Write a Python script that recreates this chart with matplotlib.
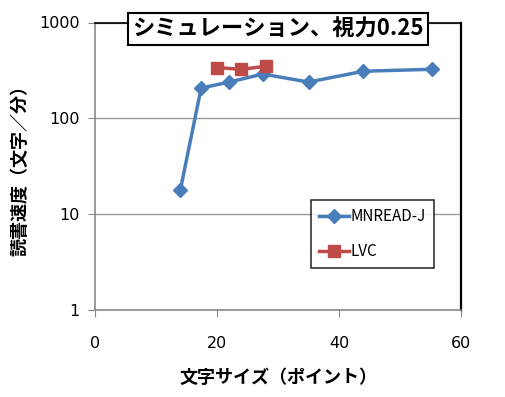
import numpy as np
import matplotlib
matplotlib.use("Agg")
import matplotlib.pyplot as plt

plt.rcParams['font.family'] = ['Noto Sans CJK JP', 'DejaVu Sans']

# data
mn_size = [14, 17.4, 22, 27.5, 35, 44, 55.2]
mn_speed = [18, 207, 239, 290, 239, 310, 325]
lvc_size = [20, 24, 28]
lvc_speed = [339, 324, 350]

xticks = [0, 20, 40, 60]
yticks = [1, 10, 100, 1000]

blue = "#4a7ebb"
red = "#be4b48"

fig = plt.figure(figsize=(5.06, 3.97), dpi=100)
ax = fig.add_axes([95 / 506, 1 - 310 / 397, 366 / 506, 287.5 / 397])

ax.plot(mn_size, mn_speed, color=blue, lw=2.5, marker="D", ms=7, label="MNREAD-J", zorder=3)
ax.plot(lvc_size, lvc_speed, color=red, lw=2.5, marker="s", ms=8, label="LVC", zorder=4)

ax.set_yscale("log")
ax.set_xlim(0, 60)
ax.set_ylim(1, 1000)
ax.set_xticks(xticks)
ax.set_xticklabels([str(t) for t in xticks], family="DejaVu Sans")
ax.set_yticks(yticks)
ax.set_yticklabels([str(t) for t in yticks], family="DejaVu Sans")
ax.minorticks_off()
ax.yaxis.grid(True, color="#9a9a9a", lw=1)
ax.set_axisbelow(True)
ax.tick_params(axis="both", labelsize=11.5, length=5, color="#888888", direction="out")
ax.tick_params(axis="x", pad=14)
ax.tick_params(axis="y", pad=6)

for s in ["left", "bottom"]:
    ax.spines[s].set_color("#888888")
    ax.spines[s].set_linewidth(1.2)
ax.spines["top"].set_color("black")
ax.spines["top"].set_linewidth(1.2)
ax.spines["right"].set_color("black")
ax.spines["right"].set_linewidth(1.6)

ax.set_xlabel("文字サイズ（ポイント）", fontsize=13, fontweight="bold", labelpad=12)
ax.set_ylabel("読書速度（文字／分）", fontsize=13, fontweight="bold", labelpad=7)

fig.text(278 / 506, 1 - 29 / 397, "シミュレーション、視力0.25", fontsize=16,
         fontweight="bold", ha="center", va="center",
         bbox=dict(boxstyle="square,pad=0.2", fc="white", ec="black", lw=1.5))

leg = ax.legend(loc="upper left", bbox_to_anchor=(216 / 366, 1 - 178 / 287.5),
                fancybox=False, edgecolor="black", fontsize=11,
                handlelength=2.0, labelspacing=1.2, borderpad=0.5, handletextpad=0.1,
                borderaxespad=0)
leg.get_frame().set_linewidth(1.2)

fig.savefig("out.png", dpi=100)
